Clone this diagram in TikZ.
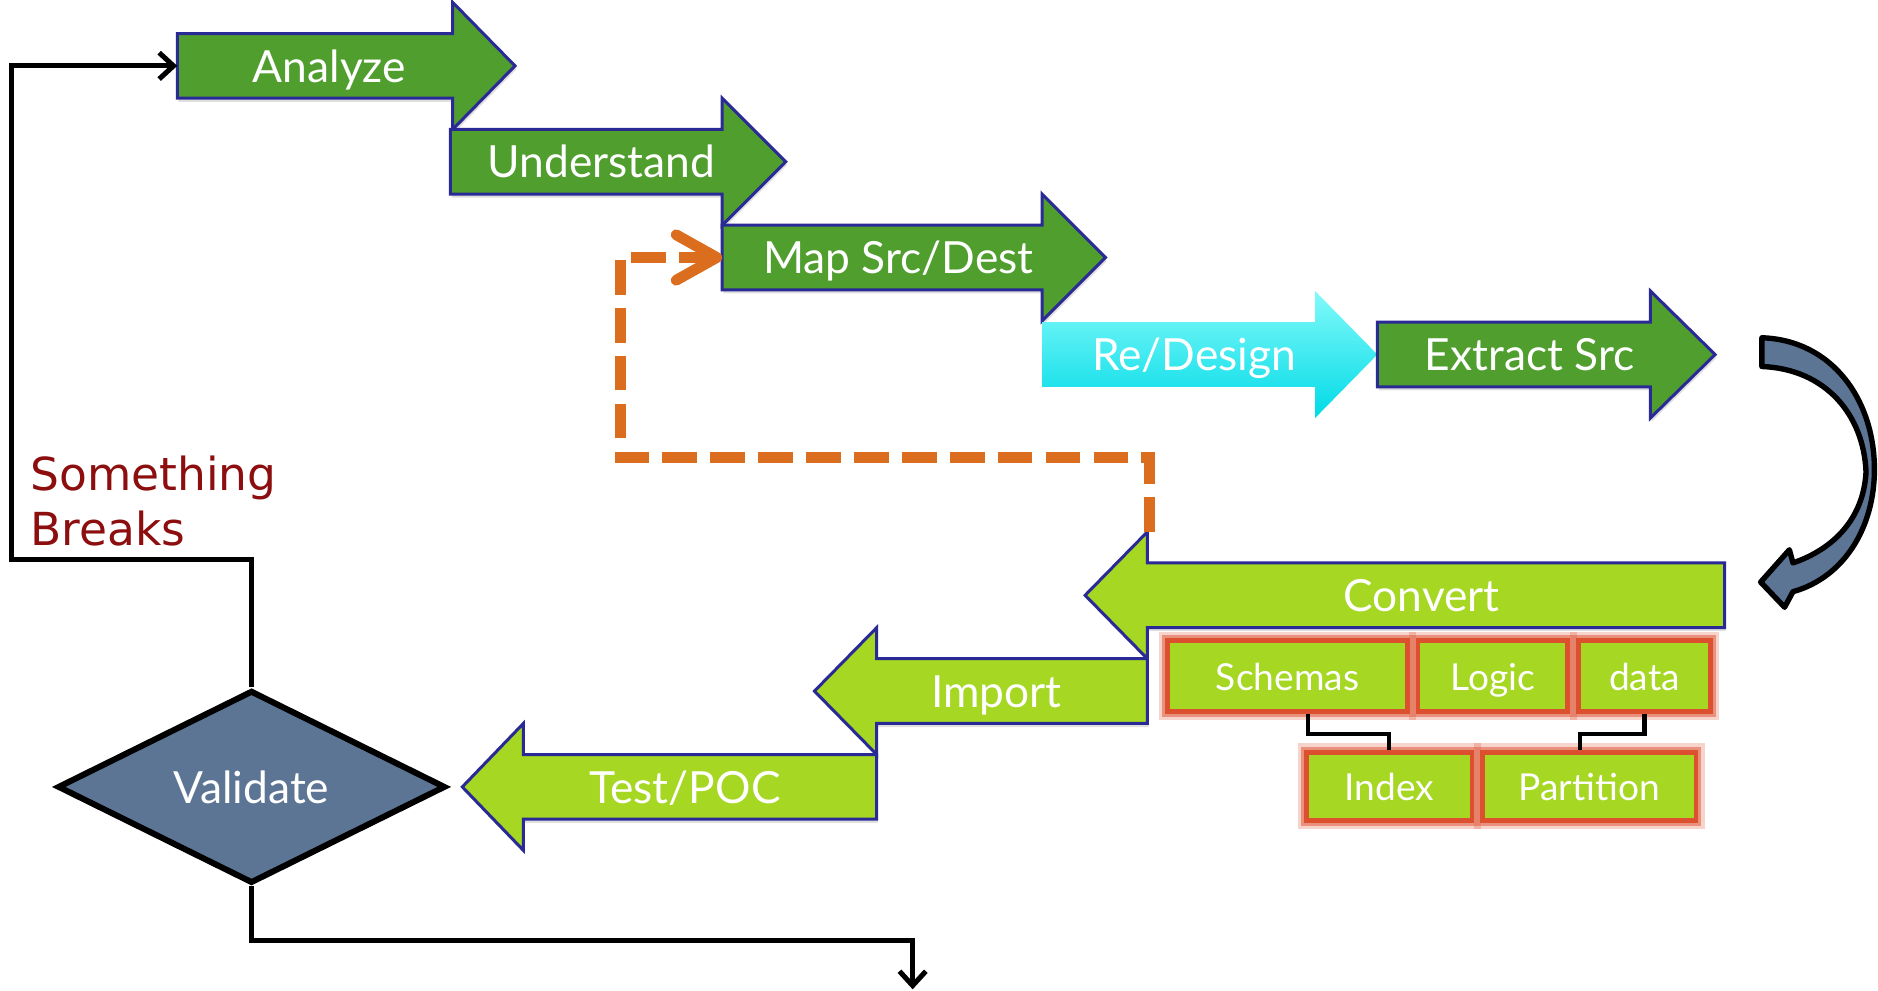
\documentclass[tikz,border=0pt]{standalone}
\usepackage{fontspec}
\setmainfont{Lato}
\newfontfamily\notefont{DejaVu Sans}
\usetikzlibrary{arrows.meta,shapes.geometric,shadows}

\definecolor{stepgreen}{RGB}{80,158,46}
\definecolor{steplime}{RGB}{165,215,35}
\definecolor{stepedge}{RGB}{42,42,150}
\definecolor{cyantop}{RGB}{130,250,250}
\definecolor{cyanbot}{RGB}{0,218,230}
\definecolor{slate}{RGB}{92,117,148}
\definecolor{loopcol}{RGB}{219,110,30}
\definecolor{boxred}{RGB}{220,80,48}
\definecolor{breakred}{RGB}{140,14,14}

\tikzset{every picture/.style={line width=0.75pt}}
\tikzset{
  stepshape/.style={draw=stepedge, line width=2.5pt, line join=miter,
    drop shadow={shadow xshift=1pt, shadow yshift=-3pt, opacity=.25}},
  steplabel/.style={text=white, inner sep=0pt, text height=27pt, text depth=0pt,
    font=\fontsize{37}{44}\selectfont},
  partbox/.style={fill=steplime, draw=boxred, line width=4pt, text=white,
    inner sep=0pt, text height=24pt, text depth=0pt,
    font=\fontsize{31}{37}\selectfont,
    preaction={draw=boxred, draw opacity=.25, line width=15pt},
    preaction={draw=boxred, draw opacity=.5, line width=9pt}},
  flowline/.style={line width=4.2pt, -{Straight Barb[length=12pt, width=22pt]}},
  partline/.style={line width=3.5pt},
  redoline/.style={draw=loopcol, line width=9pt, dash pattern=on 29pt off 11pt,
    -{Straight Barb[length=34pt, width=38pt, round]}}
}

\begin{document}
\begin{tikzpicture}[x=1pt,y=1pt,yscale=-1,xscale=1]
\useasboundingbox (0,0) rectangle (1568,827);

%Shape: Right Arrow
\draw [stepshape, fill=stepgreen] (148,28) -- (378,28) -- (378,2) -- (430,55) -- (378,108) -- (378,82) -- (148,82) -- cycle ;
%Shape: Right Arrow
\draw [stepshape, fill=stepgreen] (376,108) -- (603,108) -- (603,82) -- (656,135) -- (603,188) -- (603,162) -- (376,162) -- cycle ;
%Shape: Right Arrow
\draw [stepshape, fill=stepgreen] (603,188) -- (870,188) -- (870,162) -- (923,215) -- (870,268) -- (870,242) -- (603,242) -- cycle ;
%Shape: Right Arrow
\shade [top color=cyantop, bottom color=cyanbot] (870,269) -- (1098,269) -- (1098,243) -- (1150,296) -- (1098,349) -- (1098,323) -- (870,323) -- cycle ;
%Shape: Right Arrow
\draw [stepshape, fill=stepgreen] (1150,269) -- (1378,269) -- (1378,243) -- (1432,296) -- (1378,349) -- (1378,323) -- (1150,323) -- cycle ;

%Shape: Left Arrow
\draw [stepshape, fill=steplime] (1440,470) -- (958,470) -- (958,444) -- (906,497) -- (958,550) -- (958,524) -- (1440,524) -- cycle ;
%Shape: Left Arrow
\draw [stepshape, fill=steplime] (958,550) -- (732,550) -- (732,524) -- (680,577) -- (732,630) -- (732,604) -- (958,604) -- cycle ;
%Shape: Left Arrow
\draw [stepshape, fill=steplime] (732,630) -- (437,630) -- (437,604) -- (386,657) -- (437,710) -- (437,684) -- (732,684) -- cycle ;

%Curved arrow back round to Convert
\draw [fill=slate, line width=4.5pt, line join=round] (1471,282) .. controls (1530,284) and (1565,334) .. (1565,392) .. controls (1565,440) and (1540,482) .. (1497,494) -- (1490,507) -- (1470,486) -- (1494,459) -- (1497,470) .. controls (1532,458) and (1556,432) .. (1558,394) .. controls (1556,346) and (1524,308) .. (1471,306) -- cycle ;

% Text Node
\node [steplabel] (analyze) at (275,55) {Analyze};
\node [steplabel] (understand) at (502,135) {Understand};
\node [steplabel] (mapsrc) at (750,215) {Map Src/Dest};
\node [steplabel] (redesign) at (997,296) {Re/Design};
\node [steplabel] (extract) at (1277,296) {Extract Src};
\node [steplabel] (convert) at (1187,497) {Convert};
\node [steplabel] (import) at (832,577) {Import};
\node [steplabel] (testpoc) at (572,657) {Test/POC};

%Shape: Diamond
\node [diamond, aspect=2, draw, fill=slate, line width=5pt, minimum width=324pt, minimum height=161pt, inner sep=0pt, text=white, text height=27pt, text depth=0pt, font=\fontsize{37}{44}\selectfont] (validate) at (210,657) {Validate};

% Text Node
\node [anchor=north west, inner sep=0pt, align=left, text=breakred, font=\notefont\fontsize{38}{46}\selectfont] (breaks) at (25,380) {Something\\Breaks};

% Convert parts
\node [partbox, minimum width=200pt, minimum height=59pt] (schemas) at (1075,564.5) {Schemas};
\node [partbox, minimum width=125pt, minimum height=59pt] (logic) at (1246.5,564.5) {Logic};
\node [partbox, minimum width=110pt, minimum height=59pt] (data) at (1373,564.5) {data};
\node [partbox, minimum width=138pt, minimum height=57pt] (index) at (1160,656.5) {Index};
\node [partbox, minimum width=178pt, minimum height=57pt] (partition) at (1327,656.5) {Partition};

\draw [partline] ([xshift=17pt]schemas.south) -- ++(0,17) -| (index.north) ;
\draw [partline] (data.south) -- ++(0,17) -| ([xshift=-8pt]partition.north) ;

% Connectors
\coordinate (analyzeTail) at (148,55) ;
\coordinate (mapTail) at (603,215) ;
\coordinate (loopStart) at (960,444) ;
\coordinate (exit) at (762,826) ;

\draw [redoline] (loopStart) |- (518,382) |- (mapTail) ;
\draw [flowline] (validate.north) |- (10,467) |- (analyzeTail) ;
\draw [flowline] (validate.south) -- ++(0,45) -| (exit) ;

\end{tikzpicture}
\end{document}
